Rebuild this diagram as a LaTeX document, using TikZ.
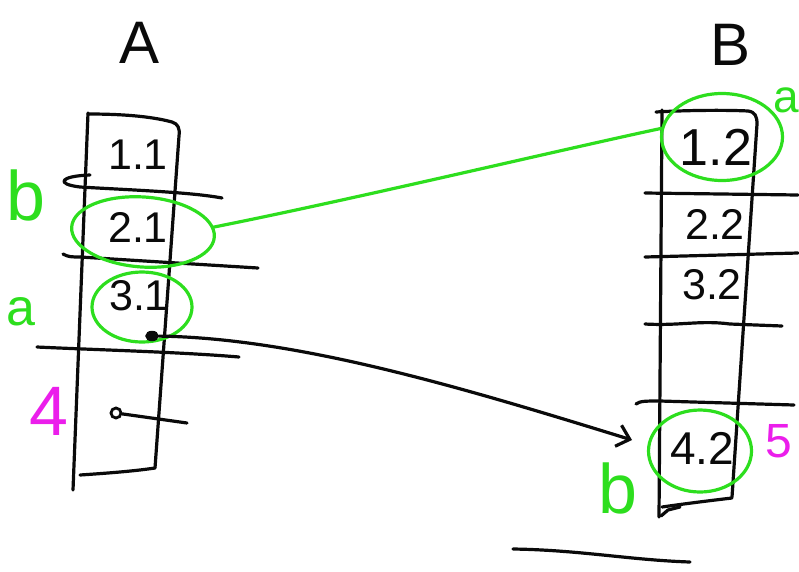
\documentclass[tikz,border=0pt]{standalone}
\usepackage{fontspec}
\setmainfont{Liberation Sans}
\usetikzlibrary{arrows.meta,shapes.geometric}
\definecolor{pen}{RGB}{10,10,10}
\definecolor{hlgreen}{RGB}{45,222,30}
\definecolor{hlmag}{RGB}{235,30,235}
\begin{document}
\begin{tikzpicture}[x=1pt,y=-1pt,
  ink/.style={draw=pen,line width=3.2pt,line cap=round,line join=round},
  gink/.style={draw=hlgreen,line width=3.2pt,line cap=round},
  cell/.style={text=pen,font=\fontsize{43}{45}\selectfont,inner sep=0pt},
  bigcell/.style={text=pen,font=\fontsize{52}{54}\selectfont,inner sep=0pt},
  title/.style={text=pen,font=\fontsize{60}{62}\selectfont,inner sep=0pt},
  gnote/.style={text=hlgreen,font=\fontsize{70}{72}\selectfont,inner sep=0pt},
  mnote/.style={text=hlmag,inner sep=0pt},
  ring/.style={ellipse,draw=hlgreen,line width=3.2pt,inner sep=0pt},
  dotfull/.style={ellipse,draw=pen,fill=pen,line width=1.5pt,minimum width=12pt,minimum height=9pt,inner sep=0pt},
  dotring/.style={circle,draw=pen,fill=white,line width=2.8pt,minimum size=10pt,inner sep=0pt},
  barb/.style={-{Straight Barb[length=12pt,width=22pt,line width=3.2pt]}}
]
\useasboundingbox (0,0) rectangle (799,571);

% titles
\node[title] (tA) at (140,43) {A};
\node[title] (tB) at (730,45) {B};

% ---------- column A ----------
\draw[ink] (88,113) -- (73,490);
\draw[ink] (88,114) .. controls (120,114) and (150,116) .. (172,122)
           .. controls (178,124) and (180,128) .. (179,136) -- (155,468);
\draw[ink] (80,475) .. controls (110,473) and (135,471) .. (155,468);
\draw[ink] (90,175) .. controls (60,176) and (55,184) .. (80,187)
           .. controls (130,190) and (190,192) .. (222,198);
\draw[ink] (63,254) .. controls (68,257) and (72,257) .. (80,257) -- (258,268);
\draw[ink] (37,347) .. controls (100,350) and (180,352) .. (239,357);

\node[cell] (c11) at (138,155) {1.1};
\node[cell] (c21) at (138,227) {2.1};
\node[cell] (c31) at (139,296) {3.1};

\node[ring,minimum width=143pt,minimum height=70pt,rotate=-4] (e21) at (143,232) {};
\node[ring,minimum width=100pt,minimum height=70pt] (e31) at (142,307) {};

\node[gnote] (nb1) at (26,195) {b};
\node[gnote,font=\fontsize{52}{54}\selectfont] (na1) at (21,312) {a};
\node[mnote,font=\fontsize{70}{72}\selectfont] (n4) at (49,411) {4};

\node[dotfull] (d3) at (152,336) {};
\node[dotring] (d4) at (116,413) {};
\coordinate (d4end) at (187,423);
\draw[ink] (d4) -- (d4end);

% ---------- column B ----------
\draw[ink] (662,110) -- (659,517);
\draw[ink] (656,112) .. controls (690,110) and (730,110) .. (748,111)
           .. controls (755,112) and (757,116) .. (757,124) -- (732,497);
\draw[ink] (662,507) .. controls (690,503) and (715,500) .. (732,498);
\draw[ink] (661,516) -- (668,510) -- (680,507);
\draw[ink] (645,193) -- (798,195);
\draw[ink] (645,257) -- (798,253);
\draw[ink] (645,324) .. controls (680,326) and (700,320) .. (730,324) -- (782,326);
\draw[ink] (636,404) .. controls (640,401) and (645,401) .. (660,401) -- (794,405);

\node[bigcell] (c12) at (716,147) {1.2};
\node[cell] (c22) at (715,224) {2.2};
\node[cell] (c32) at (712,285) {3.2};
\node[cell,font=\fontsize{46}{48}\selectfont] (c42) at (702,448) {4.2};

\node[ring,minimum width=121pt,minimum height=87pt] (e12) at (722,137) {};
\node[ring,minimum width=103pt,minimum height=82pt] (e42) at (700,451) {};

\node[gnote,font=\fontsize{46}{48}\selectfont] (na2) at (786,100) {a};
\node[mnote,font=\fontsize{48}{50}\selectfont] (n5) at (779,441) {5};
\node[gnote] (nb2) at (618,488) {b};

% ---------- connectors ----------
\draw[gink] (e21.8) .. controls (350,200) and (560,150) .. (e12.172);
\coordinate (tip) at (632,440);
\draw[ink,barb] (d3) .. controls (300,338) and (470,390) .. (tip);

\coordinate (bl1) at (513,549);
\coordinate (bl2) at (690,562);
\draw[ink] (bl1) .. controls (580,550) and (630,560) .. (bl2);
\end{tikzpicture}
\end{document}
